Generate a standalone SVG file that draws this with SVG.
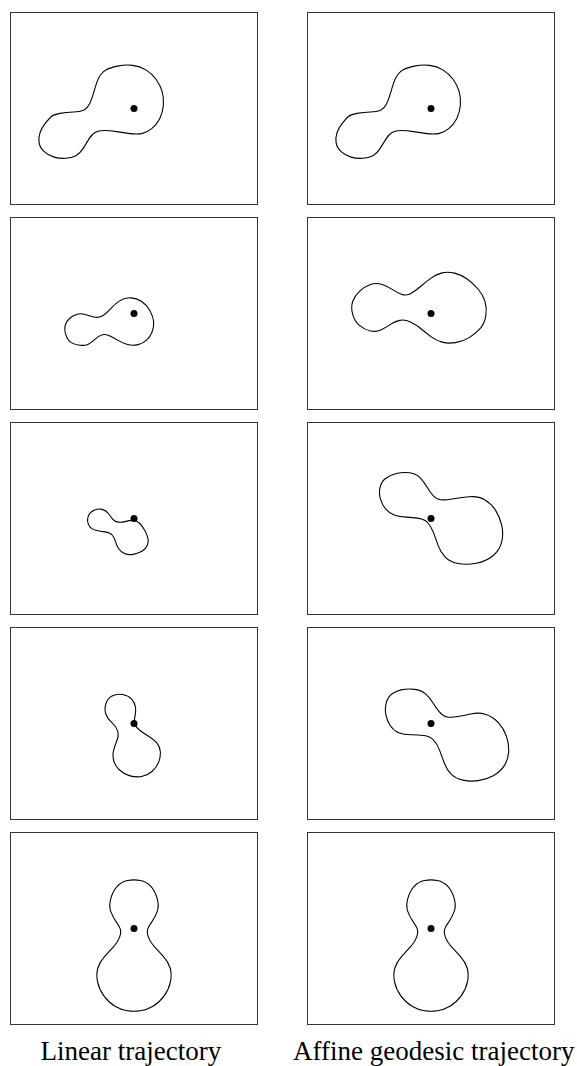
<svg xmlns="http://www.w3.org/2000/svg" xmlns:xlink="http://www.w3.org/1999/xlink" width="577" height="1066" viewBox="0 0 577 1066">
<style>
.frame{fill:#fff;stroke:#333;stroke-width:1}
.shape{fill:none;stroke:#000;stroke-width:1.1;stroke-linejoin:round}
.dot{fill:#000}
.label{font-family:'Liberation Serif','Times New Roman',serif;font-size:27px;fill:#000}
</style>
<defs>
<path id="s1" class="shape" d="M -83.2,8.5 Q -80.7,6 -74,4.85 Q -67.3,3.7 -60.65,3.5 Q -54,3.3 -50.35,1.65 Q -46.7,0 -44.5,-4.5 Q -42.3,-9 -40.65,-14.85 Q -39,-20.7 -37.35,-25.7 Q -35.7,-30.7 -33.2,-34 Q -30.7,-37.3 -27.35,-39 Q -24,-40.7 -16.5,-42.35 Q -9,-44 -1.5,-43.15 Q 6,-42.3 11.85,-38.65 Q 17.7,-35 21.85,-29.5 Q 26,-24 28,-17.35 Q 30,-10.7 29.35,-3.2 Q 28.7,4.3 25.7,10.15 Q 22.7,16 17.7,20.15 Q 12.7,24.3 7.7,25.15 Q 2.7,26 -4,25.15 Q -10.7,24.3 -17.35,23.15 Q -24,22 -29.85,22 Q -35.7,22 -39,24 Q -42.3,26 -44.8,30.15 Q -47.3,34.3 -50.65,39.65 Q -54,45 -58.15,47.15 Q -62.3,49.3 -68.15,49.8 Q -74,50.3 -79.85,48.65 Q -85.7,47 -89.85,43.15 Q -94,39.3 -94.85,34.3 Q -95.7,29.3 -94,24.3 Q -92.3,19.3 -89,15.15 Q -85.7,11 -83.2,8.5 Z"/>
<path id="s5" class="shape" d="M -6.35,-48 Q 0,-49.3 6.35,-48 Q 12.7,-46.7 16.85,-42.2 Q 21,-37.7 23.15,-30.2 Q 25.3,-22.7 23.15,-16.85 Q 21,-11 17.65,-6.35 Q 14.3,-1.7 13.5,1.15 Q 12.7,4 14.35,8.65 Q 16,13.3 20.15,17.8 Q 24.3,22.3 29.3,27.8 Q 34.3,33.3 36.15,39.5 Q 38,45.7 36.5,53.2 Q 35,60.7 30.15,67.35 Q 25.3,74 19,77.65 Q 12.7,81.3 6.35,82.3 Q 0,83.3 -6.35,82.3 Q -12.7,81.3 -19,77.65 Q -25.3,74 -30.15,67.35 Q -35,60.7 -36.5,53.2 Q -38,45.7 -36.15,39.5 Q -34.3,33.3 -29.3,27.8 Q -24.3,22.3 -20.15,17.8 Q -16,13.3 -14.35,8.65 Q -12.7,4 -13.5,1.15 Q -14.3,-1.7 -17.65,-6.35 Q -21,-11 -23.15,-16.85 Q -25.3,-22.7 -23.15,-30.2 Q -21,-37.7 -16.85,-42.2 Q -12.7,-46.7 -6.35,-48 Z"/>
</defs>
<rect width="577" height="1066" fill="#fff"/>

<g id="linear-1">
<rect class="frame" x="10.5" y="12.5" width="247" height="192"/>
<g transform="translate(134,108.5)"><use xlink:href="#s1" href="#s1"/><circle class="dot" r="3.5"/></g>
</g>
<g id="affine-1">
<rect class="frame" x="307.5" y="12.5" width="247" height="192"/>
<g transform="translate(431,108.5)"><use xlink:href="#s1" href="#s1"/><circle class="dot" r="3.5"/></g>
</g>

<g id="linear-2">
<rect class="frame" x="10.5" y="217.5" width="247" height="192"/>
<g transform="translate(134,313.5)"><path class="shape" d="M -68.15,21.35 Q -70,15.7 -68.65,11.5 Q -67.3,7.3 -64,4.5 Q -60.7,1.7 -56.85,0.7 Q -53,-0.3 -48.85,1 Q -44.7,2.3 -40.2,3.5 Q -35.7,4.7 -31.85,2.5 Q -28,0.3 -23.5,-4.7 Q -19,-9.7 -14,-12.85 Q -9,-16 -3.15,-15.65 Q 2.7,-15.3 7.7,-12 Q 12.7,-8.7 16,-2.85 Q 19.3,3 19.65,8.35 Q 20,13.7 18,18.7 Q 16,23.7 12.35,26.85 Q 8.7,30 4,31.15 Q -0.7,32.3 -5.35,31.3 Q -10,30.3 -14.5,27.65 Q -19,25 -23.5,22.65 Q -28,20.3 -31.65,21.3 Q -35.3,22.3 -38.8,25.65 Q -42.3,29 -45.65,30.65 Q -49,32.3 -54,31.8 Q -59,31.3 -62.65,29.15 Q -66.3,27 -68.15,21.35 Z"/><circle class="dot" r="3.5"/></g>
</g>
<g id="affine-2">
<rect class="frame" x="307.5" y="217.5" width="247" height="192"/>
<g transform="translate(431,313.5)"><path class="shape" d="M -78.3,0.85 Q -80.3,-6.3 -78.3,-12 Q -76.3,-17.7 -71.3,-22.35 Q -66.3,-27 -60.5,-29 Q -54.7,-31 -48.85,-29 Q -43,-27 -38,-23.65 Q -33,-20.3 -28.85,-19 Q -24.7,-17.7 -20.5,-19.85 Q -16.3,-22 -10.5,-27 Q -4.7,-32 0.3,-35.65 Q 5.3,-39.3 11.15,-40.65 Q 17,-42 23.65,-40.35 Q 30.3,-38.7 36.15,-34.5 Q 42,-30.3 47,-24.5 Q 52,-18.7 54,-12 Q 56,-5.3 54.85,2.2 Q 53.7,9.7 49.5,14.7 Q 45.3,19.7 38.65,23.85 Q 32,28 24.5,29.15 Q 17,30.3 11.15,28.65 Q 5.3,27 0.3,23.35 Q -4.7,19.7 -9.7,15.5 Q -14.7,11.3 -20.5,8.5 Q -26.3,5.7 -31.3,6.85 Q -36.3,8 -40.5,10.85 Q -44.7,13.7 -49.7,16.2 Q -54.7,18.7 -60.5,17.5 Q -66.3,16.3 -71.3,12.15 Q -76.3,8 -78.3,0.85 Z"/><circle class="dot" r="3.5"/></g>
</g>

<g id="linear-3">
<rect class="frame" x="10.5" y="422.5" width="247" height="192"/>
<g transform="translate(134,518.5)"><path class="shape" d="M -46.35,3 Q -46.7,0 -45.35,-3.35 Q -44,-6.7 -39.85,-8.35 Q -35.7,-10 -31.85,-9.15 Q -28,-8.3 -25.65,-5 Q -23.3,-1.7 -21.15,0.8 Q -19,3.3 -15.65,3.65 Q -12.3,4 -8.15,2.85 Q -4,1.7 -0.5,1.85 Q 3,2 5.85,5 Q 8.7,8 10.85,12 Q 13,16 13.85,19.65 Q 14.7,23.3 13.2,27 Q 11.7,30.7 8,32.85 Q 4.3,35 -0.7,35.85 Q -5.7,36.7 -9.5,35 Q -13.3,33.3 -15.3,30.3 Q -17.3,27.3 -18.5,23.15 Q -19.7,19 -21.85,16.5 Q -24,14 -29,13.35 Q -34,12.7 -38.15,11.7 Q -42.3,10.7 -44.15,8.35 Q -46,6 -46.35,3 Z"/><circle class="dot" r="3.5"/></g>
</g>
<g id="affine-3">
<rect class="frame" x="307.5" y="422.5" width="247" height="192"/>
<g transform="translate(431,518.5)"><path class="shape" d="M -50.5,-19.15 Q -52.3,-25 -51,-30.85 Q -49.7,-36.7 -45.5,-40 Q -41.3,-43.3 -34.65,-45 Q -28,-46.7 -21.35,-45.7 Q -14.7,-44.7 -10.85,-40.7 Q -7,-36.7 -4.15,-31.7 Q -1.3,-26.7 2,-23 Q 5.3,-19.3 9.5,-18.8 Q 13.7,-18.3 21.2,-19.5 Q 28.7,-20.7 37.85,-21.7 Q 47,-22.7 53.65,-18.85 Q 60.3,-15 64.5,-8.35 Q 68.7,-1.7 70.7,6.65 Q 72.7,15 70.7,23.35 Q 68.7,31.7 62,37.2 Q 55.3,42.7 45.3,44.7 Q 35.3,46.7 27,45 Q 18.7,43.3 14,38.3 Q 9.3,33.3 7,26.65 Q 4.7,20 2.5,14.15 Q 0.3,8.3 -3,4.5 Q -6.3,0.7 -12.15,-0.15 Q -18,-1 -24.65,-1.35 Q -31.3,-1.7 -36.3,-3.35 Q -41.3,-5 -45,-9.15 Q -48.7,-13.3 -50.5,-19.15 Z"/><circle class="dot" r="3.5"/></g>
</g>

<g id="linear-4">
<rect class="frame" x="10.5" y="627.5" width="247" height="192"/>
<g transform="translate(134,723.5)"><path class="shape" d="M -22,-27.5 Q -17.3,-30 -11.5,-29 Q -5.7,-28 -2.35,-24.35 Q 1,-20.7 1.5,-16.2 Q 2,-11.7 1,-7.5 Q 0,-3.3 1,0.35 Q 2,4 6,7 Q 10,10 15,13 Q 20,16 23,19.65 Q 26,23.3 26.35,28.3 Q 26.7,33.3 24.7,38.65 Q 22.7,44 18,48 Q 13.3,52 7.65,53 Q 2,54 -4,52.35 Q -10,50.7 -14.5,46.5 Q -19,42.3 -20.35,37 Q -21.7,31.7 -20.35,26.7 Q -19,21.7 -17,16.7 Q -15,11.7 -16.5,7.2 Q -18,2.7 -22.35,-1.15 Q -26.7,-5 -28.2,-9.5 Q -29.7,-14 -28.2,-19.5 Q -26.7,-25 -22,-27.5 Z"/><circle class="dot" r="3.5"/></g>
</g>
<g id="affine-4">
<rect class="frame" x="307.5" y="627.5" width="247" height="192"/>
<g transform="translate(431,723.5)"><path class="shape" d="M -45.15,-8.85 Q -46.3,-15 -44.65,-20.85 Q -43,-26.7 -38.85,-29.7 Q -34.7,-32.7 -28.85,-33.85 Q -23,-35 -16.35,-34.15 Q -9.7,-33.3 -5.5,-29.65 Q -1.3,-26 1.7,-21 Q 4.7,-16 8.35,-11.65 Q 12,-7.3 16.15,-6.5 Q 20.3,-5.7 27,-7 Q 33.7,-8.3 40.85,-9.8 Q 48,-11.3 55,-9 Q 62,-6.7 67.35,-0.85 Q 72.7,5 75.35,12.5 Q 78,20 77.65,28 Q 77.3,36 73.3,42.15 Q 69.3,48.3 62.3,52.15 Q 55.3,56 47.3,57.15 Q 39.3,58.3 32,56.65 Q 24.7,55 20.35,50.85 Q 16,46.7 13.5,40 Q 11,33.3 8.5,26.65 Q 6,20 2.35,16.35 Q -1.3,12.7 -7.15,12 Q -13,11.3 -20.15,11.3 Q -27.3,11.3 -32.3,9.3 Q -37.3,7.3 -40.65,2.3 Q -44,-2.7 -45.15,-8.85 Z"/><circle class="dot" r="3.5"/></g>
</g>

<g id="linear-5">
<rect class="frame" x="10.5" y="832.5" width="247" height="192"/>
<g transform="translate(134,928.5)"><use xlink:href="#s5" href="#s5"/><circle class="dot" r="3.5"/></g>
</g>
<g id="affine-5">
<rect class="frame" x="307.5" y="832.5" width="247" height="192"/>
<g transform="translate(431,928.5)"><use xlink:href="#s5" href="#s5"/><circle class="dot" r="3.5"/></g>
</g>

<g id="labels">
<text class="label" x="40.5" y="1059.5">Linear trajectory</text>
<text class="label" x="293" y="1059.5">Affine geodesic trajectory</text>
</g>
</svg>
